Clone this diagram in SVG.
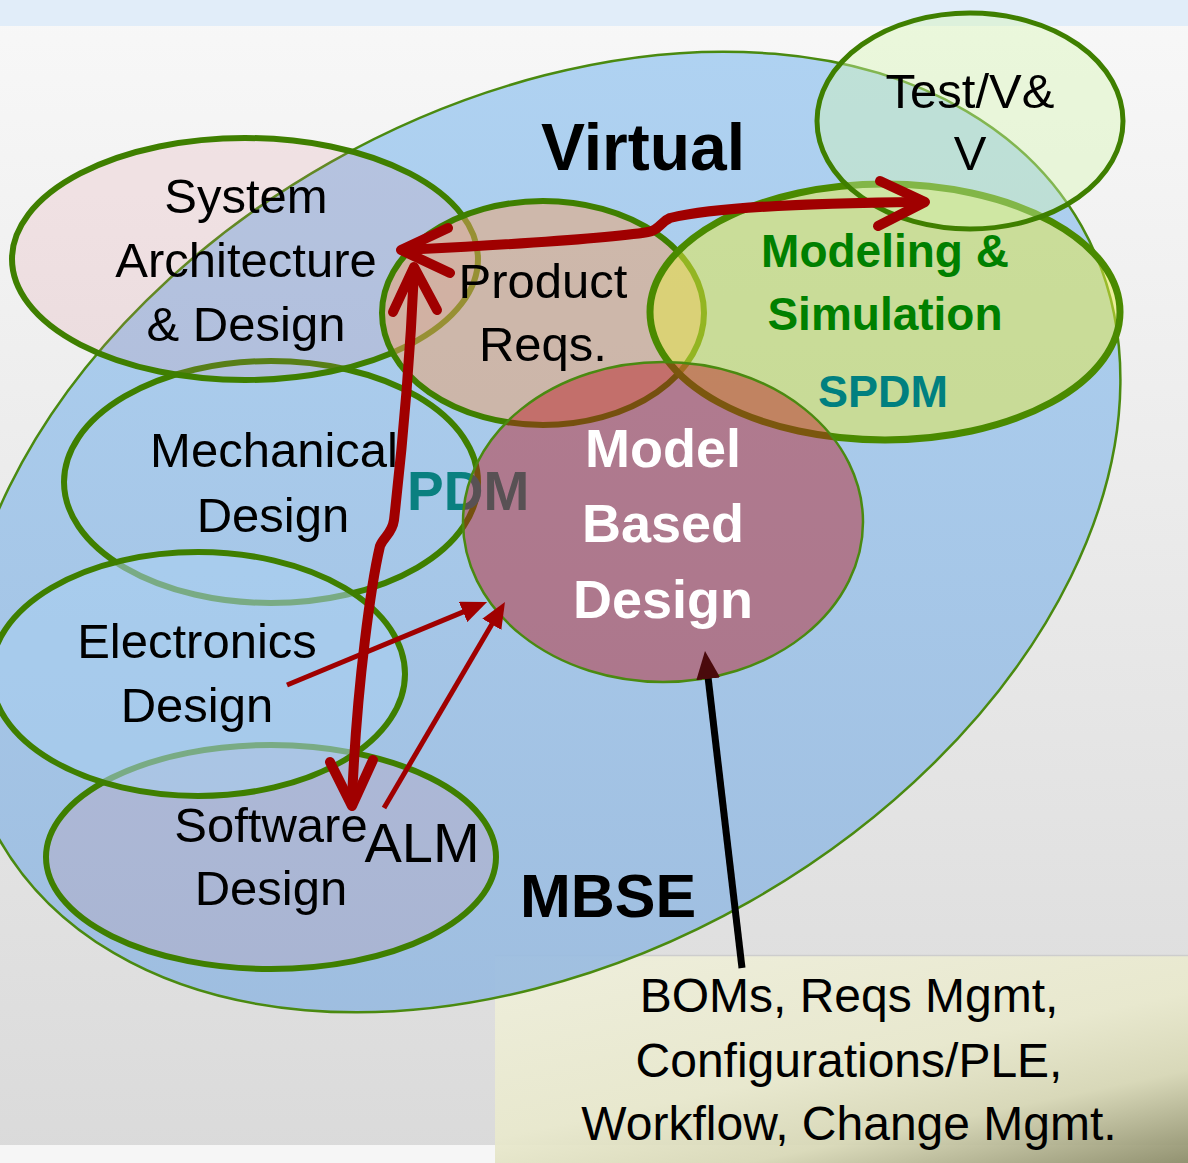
<svg xmlns="http://www.w3.org/2000/svg" width="1188" height="1163" viewBox="0 0 1188 1163">
<defs>
  <linearGradient id="bgGrad" x1="0" y1="0" x2="0" y2="1">
    <stop offset="0" stop-color="#f8f8f8"/>
    <stop offset="1" stop-color="#dadada"/>
  </linearGradient>
  <linearGradient id="mbseGrad" gradientUnits="userSpaceOnUse" x1="0" y1="52" x2="0" y2="1012" gradientTransform="rotate(29.5 540 532)">
    <stop offset="0" stop-color="#a9cff1"/>
    <stop offset="1" stop-color="#99bbe0"/>
  </linearGradient>
  <linearGradient id="boxGrad" x1="0.3" y1="0" x2="1" y2="1">
    <stop offset="0" stop-color="#eeeed8"/>
    <stop offset="0.45" stop-color="#e9e9cd"/>
    <stop offset="0.7" stop-color="#d8d8b6"/>
    <stop offset="1" stop-color="#8a8a66"/>
  </linearGradient>
  <marker id="redHead" markerUnits="userSpaceOnUse" markerWidth="26" markerHeight="22" viewBox="0 0 26 22" refX="14" refY="11" orient="auto">
    <path d="M0,0 L26,11 L0,22 Z" fill="#a00000"/>
  </marker>
  <marker id="darkHead" markerUnits="userSpaceOnUse" markerWidth="28" markerHeight="24" viewBox="0 0 28 24" refX="14" refY="12" orient="auto">
    <path d="M0,0 L28,12 L0,24 Z" fill="#4a0a0c"/>
  </marker>
</defs>
<style>
  .node{stroke:#3f7f00;stroke-width:6}
  .lbl{font-family:"Liberation Sans",Arial,sans-serif;font-size:49px;fill:#000;text-anchor:middle}
  .b{font-weight:bold}
  .box{font-size:48px}
  .mbd{font-size:54px;fill:#ffffff}
  .ms{font-size:46px;fill:#008000}
  .big{fill:none;stroke:#a00000;stroke-width:10;stroke-linecap:round;stroke-linejoin:round}
  .thin{fill:none;stroke:#a00000;stroke-width:5}
</style>

<g id="background">
  <rect x="0" y="0" width="1188" height="1163" fill="url(#bgGrad)"/>
  <rect x="0" y="0" width="1188" height="26" fill="#e1edf9"/>
  <rect x="0" y="1145" width="1188" height="18" fill="#f6f6f6"/>
</g>

<g id="callout">
  <rect x="495" y="955" width="693" height="208" fill="url(#boxGrad)" fill-opacity="0.92"/>
  <line x1="495" y1="955.5" x2="1188" y2="955.5" stroke="#cdcdcd" stroke-width="1.5"/>
  <text class="lbl box" x="849" y="1012">BOMs, Reqs Mgmt,</text>
  <text class="lbl box" x="849" y="1077">Configurations/PLE,</text>
  <text class="lbl box" x="849" y="1140">Workflow, Change Mgmt.</text>
</g>

<g id="mbse">
  <ellipse cx="540" cy="532" rx="622" ry="425" transform="rotate(-29.5 540 532)" fill="url(#mbseGrad)" fill-opacity="0.92" stroke="#4a8a10" stroke-width="2.5"/>
  <text class="lbl b" x="643" y="170" style="font-size:66px">Virtual</text>
  <text class="lbl b" x="520" y="917" style="font-size:61px;text-anchor:start">MBSE</text>
</g>

<g id="mechanical">
  <ellipse class="node" cx="271" cy="482" rx="207" ry="121" fill="none"/>
  <text class="lbl" x="274" y="467">Mechanical</text>
  <text class="lbl" x="273" y="532">Design</text>
</g>

<g id="system-architecture">
  <ellipse class="node" cx="245" cy="259" rx="233" ry="121" fill="#dd8592" fill-opacity="0.16"/>
  <text class="lbl" x="246" y="213">System</text>
  <text class="lbl" x="246" y="277">Architecture</text>
  <text class="lbl" x="246" y="341">&amp; Design</text>
</g>

<g id="software">
  <ellipse class="node" cx="271" cy="857" rx="225" ry="112" fill="#dd8592" fill-opacity="0.16"/>
  <text class="lbl" x="271" y="842">Software</text>
  <text class="lbl" x="271" y="905">Design</text>
</g>

<g id="electronics">
  <ellipse class="node" cx="198" cy="674" rx="207" ry="122" fill="#aad0f0" fill-opacity="0.55"/>
  <text class="lbl" x="197" y="658">Electronics</text>
  <text class="lbl" x="197" y="722">Design</text>
</g>

<g id="alm">
  <text class="lbl" x="422" y="862" style="font-size:56px">ALM</text>
</g>

<g id="product-reqs">
  <ellipse class="node" cx="543" cy="313" rx="161" ry="112" fill="#f0a168" fill-opacity="0.5"/>
  <text class="lbl" x="543" y="298">Product</text>
  <text class="lbl" x="543" y="361">Reqs.</text>
</g>

<g id="modeling-simulation">
  <ellipse class="node" cx="885" cy="312" rx="235" ry="128" fill="#e8eb44" fill-opacity="0.5" style="stroke:#4a8a00;stroke-width:7"/>
  <text class="lbl b ms" x="885" y="267">Modeling &amp;</text>
  <text class="lbl b ms" x="885" y="330">Simulation</text>
  <text class="lbl b" x="883" y="407" style="font-size:45px;fill:#008080">SPDM</text>
</g>

<g id="test-vv">
  <ellipse class="node" cx="970" cy="121" rx="153" ry="108" fill="#d7f8b1" fill-opacity="0.4" style="stroke-width:5"/>
  <text class="lbl" x="970" y="108">Test/V&amp;</text>
  <text class="lbl" x="970" y="170">V</text>
</g>

<g id="pdm">
  <text class="lbl b" x="407" y="510" style="font-size:55px;text-anchor:start;fill:#0a8080">PDM</text>
</g>

<g id="model-based-design">
  <ellipse cx="663" cy="522" rx="200" ry="160" fill="#b7181f" fill-opacity="0.45" stroke="#4a8a10" stroke-width="2.5"/>
  <text class="lbl b mbd" x="663" y="467">Model</text>
  <text class="lbl b mbd" x="663" y="542">Based</text>
  <text class="lbl b mbd" x="663" y="618">Design</text>
</g>

<g id="connectors">
  <line x1="742" y1="968" x2="706.6" y2="664.9" stroke="#000" stroke-width="7" marker-end="url(#darkHead)"/>
  <line class="thin" x1="287" y1="685" x2="476" y2="606.6" marker-end="url(#redHead)"/>
  <line class="thin" x1="384" y1="808" x2="498.9" y2="612.3" marker-end="url(#redHead)"/>
  <path class="big" d="M414,272 C410,360 402,450 394,520 C392,534 384,536 380,546 C372,580 357,680 352,800"/>
  <polyline class="big" points="393,312 414,267 437,310"/>
  <polyline class="big" points="330,762 352,806 373,760"/>
  <path class="big" d="M404,250 C480,246 600,240 648,232 C660,230 660,222 670,218 C720,206 820,203 920,202"/>
  <polyline class="big" points="448,228 401,250 450,273"/>
  <polyline class="big" points="880,181 925,202 878,226"/>
</g>
</svg>
